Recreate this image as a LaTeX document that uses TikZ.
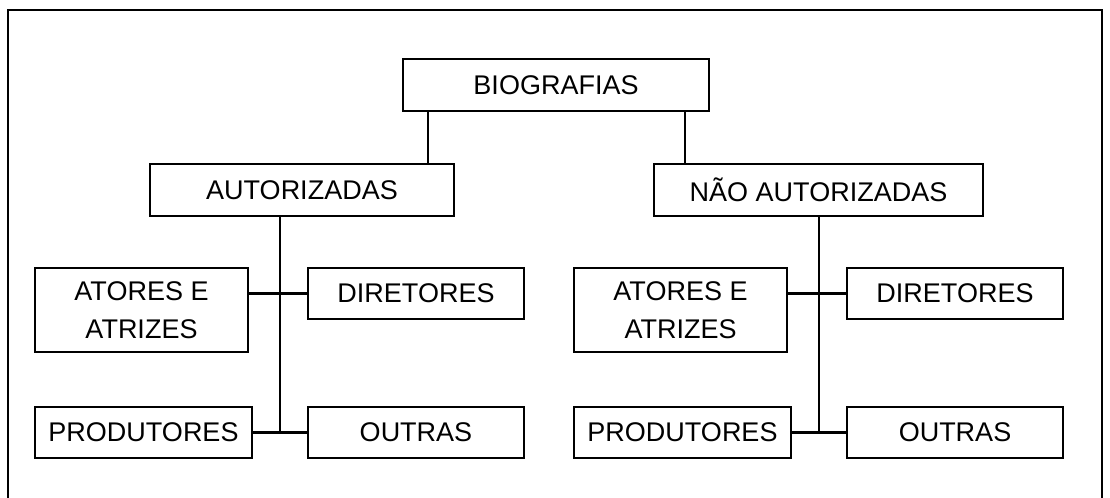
\documentclass[tikz,border=0pt]{standalone}
\usepackage{fontspec}
\setmainfont{Liberation Sans}

\begin{document}
\begin{tikzpicture}[x=0.5pt, y=-0.5pt, line width=1.1pt,
	caixa/.style={draw, inner sep=0pt, align=center, minimum height=25.5pt,
		font=\fontsize{13.5}{19}\selectfont}]
	\useasboundingbox (0,0) rectangle (1110,498);
	% moldura
	\draw (8,498) -- (8,10) -- (1102,10) -- (1102,498);

	\node[caixa, minimum width=153pt, minimum height=26pt] (bio) at (556,85) {BIOGRAFIAS};
	\node[caixa, minimum width=152pt, minimum height=26pt] (autA) at (302,190) {AUTORIZADAS};
	\node[caixa, minimum width=164.5pt, minimum height=26pt] (autN) at (818.5,190) {NÃO AUTORIZADAS};

	\draw ([xshift=13pt]bio.south west) -- ([xshift=13pt]bio.south west |- autA.north);
	\draw ([xshift=-12.5pt]bio.south east) -- ([xshift=-12.5pt]bio.south east |- autN.north);

	\foreach \g/\dx in {A/0, N/539} {
		\node[caixa, minimum width=106.5pt, minimum height=42pt] (atores\g) at ({141.5+\dx},310) {ATORES E\\ATRIZES};
		\node[caixa, minimum width=108pt] (dir\g) at ({416+\dx},293.5) {DIRETORES};
		\node[caixa, minimum width=108.5pt] (prod\g) at ({143.5+\dx},432.5) {PRODUTORES};
		\node[caixa, minimum width=108pt] (outras\g) at ({416+\dx},432.5) {OUTRAS};

		\coordinate (tronco\g) at ({280+\dx},432.5);
		\draw (aut\g.south -| tronco\g) -- (tronco\g);
		\draw (atores\g.east |- dir\g.west) -- (dir\g.west);
		\draw (prod\g.east) -- (outras\g.west);
	}
\end{tikzpicture}
\end{document}
